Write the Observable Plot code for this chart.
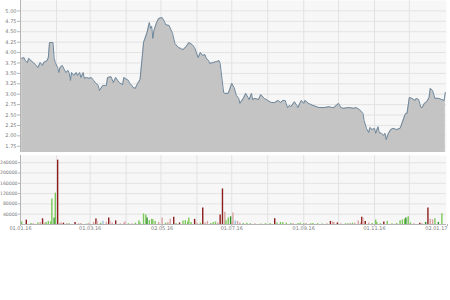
<!DOCTYPE html>
<html><head><meta charset="utf-8">
<script src="https://cdn.jsdelivr.net/npm/d3@7"></script>
<script src="https://cdn.jsdelivr.net/npm/@observablehq/plot@0.6"></script>
<style>
html,body{margin:0;padding:0;background:#fff;}
#chart svg{display:block;}
#bottomPanel{margin-top:3px;}
</style>
</head><body>
<div id="chart"><div id="topPanel"></div><div id="bottomPanel"></div></div>
<script>
// Day offsets from 2016-01-02 and closing prices
const priceDays = [0,2,3,5,6,8,10,12,14,16,18,19,22,23,24,27,28,29,31,32,33,35,38,40,41,42,43,45,47,48,50,51,53,54,56,58,60,62,64,66,67,70,72,73,74,77,79,81,84,87,88,92,93,95,96,98,99,100,102,104,105,108,110,111,112,113,114,116,118,121,123,124,127,130,132,135,137,139,142,144,147,149,152,154,156,158,159,161,162,165,167,168,170,171,174,175,178,181,183,185,187,188,191,193,195,196,198,199,201,204,206,209,212,215,218,221,223,225,227,229,231,232,235,237,238,240,241,243,244,247,251,256,261,265,267,269,273,275,277,282,286,288,291,294,295,297,299,300,302,304,305,307,308,310,312,313,314,316,318,320,323,326,327,330,331,332,334,336,339,340,342,344,345,347,349,351,352,354,356,359,362,364,365];
const prices = [3.86,3.88,3.81,3.76,3.86,3.81,3.76,3.71,3.64,3.76,3.69,3.76,3.81,3.88,4.24,4.24,3.86,3.76,3.64,3.52,3.64,3.69,3.52,3.57,3.50,3.33,3.52,3.45,3.52,3.45,3.52,3.40,3.52,3.38,3.40,3.38,3.40,3.33,3.26,3.21,3.09,3.21,3.21,3.21,3.40,3.42,3.28,3.40,3.28,3.23,3.40,3.33,3.26,3.21,3.16,3.14,3.21,3.26,3.35,3.93,4.24,4.48,4.72,4.58,4.63,4.34,4.53,4.70,4.82,4.84,4.75,4.67,4.65,4.46,4.22,4.12,4.10,4.07,4.15,4.24,4.19,4.12,3.88,4.00,3.93,3.95,3.86,3.81,3.74,3.76,3.78,3.78,3.81,3.74,3.04,3.02,3.02,3.26,3.16,2.97,2.90,2.78,2.90,3.02,2.92,2.87,3.02,2.87,2.90,2.87,2.99,2.90,2.85,2.80,2.80,2.85,2.80,2.85,2.85,2.68,2.73,2.70,2.82,2.73,2.68,2.80,2.85,2.78,2.85,2.78,2.73,2.68,2.68,2.70,2.68,2.68,2.78,2.68,2.66,2.68,2.66,2.68,2.63,2.54,2.37,2.18,2.08,2.20,2.15,2.18,2.06,2.22,2.08,2.06,2.01,2.06,1.91,2.06,2.15,2.18,2.15,2.18,2.25,2.49,2.54,2.54,2.92,2.90,2.85,2.90,2.87,2.68,2.68,2.78,2.82,2.92,3.14,3.09,2.90,2.90,2.87,2.85,3.04];

// Volume bars: day offsets from 2016-01-02, volumes, kind
const volDays = [0,4,8,10,14,16,18,20,21,23,25,26,28,29,31,33,34,36,39,41,46,49,51,56,58,62,64,65,68,70,73,75,76,78,81,85,88,89,92,95,98,101,102,105,107,108,110,112,113,115,118,121,124,126,128,131,133,136,139,141,143,144,146,149,151,154,156,158,160,163,165,167,169,171,173,175,176,178,180,181,182,184,186,188,191,194,197,201,206,210,214,218,220,223,225,228,232,234,238,240,243,245,249,251,255,259,263,266,268,269,272,275,279,281,283,285,287,290,292,293,294,296,299,302,305,306,309,312,315,319,323,326,328,330,331,333,335,338,343,345,348,350,352,354,356,359,362,364];
const volumes = [10000,17000,4000,3000,6000,8000,22000,5000,8000,12000,10000,99000,25000,122000,250000,5000,6000,5000,4000,3000,8000,3000,4000,2000,5000,8000,21000,12000,5000,13000,8000,25000,13000,6000,14000,3000,5000,10000,3000,3000,5000,15000,6000,41000,37000,25000,15000,20000,18000,12000,8000,25000,5000,8000,20000,28000,4000,6000,14000,15000,10000,25000,8000,20000,6000,5000,64000,6000,12000,4000,8000,10000,6000,37000,138000,48000,15000,25000,30000,8000,45000,14000,12000,6000,4000,5000,3000,3000,2000,3000,4000,22000,6000,8000,7000,5000,4000,3000,4000,5000,3000,4000,3000,4000,3000,2000,3000,12000,10000,8000,6000,3000,3000,3000,4000,5000,5000,14000,6000,28000,25000,12000,6000,4000,17000,8000,3000,10000,12000,3000,4000,15000,18000,20000,25000,30000,6000,3000,5000,3000,8000,64000,20000,18000,22000,8000,42000,40000];
const volKinds = ["up","down","up","downL","up","downL","down","downL","up","up","up","up","upD","up","down","downL","downL","down","downL","up","down","downL","downL","up","downL","downL","down","downL","up","flat","downL","down","downL","downL","down","downL","downL","downL","up","downL","up","up","up","up","up","upD","up","up","up","up","downL","downL","up","downL","downL","down","up","down","up","up","up","up","up","down","downL","up","down","downL","downL","up","up","up","downL","down","down","downL","up","up","upD","downL","downL","flat","downL","downL","up","up","up","downL","up","up","up","down","up","up","up","up","up","downL","up","up","up","downL","up","up","up","up","downL","down","downL","downL","down","downL","up","up","downL","up","downL","downL","downL","down","downL","down","downL","up","up","up","up","down","up","up","up","up","up","up","upD","up","up","downL","down","downL","upD","down","downL","downL","up","upD","up"];
const kindColors = {up:"#7dc85a", upD:"#2f8f2a", down:"#8c1d1d", downL:"#d9a3a3", flat:"#9cc4de"};

const priceTicks = [1.75,2.00,2.25,2.50,2.75,3.00,3.25,3.50,3.75,4.00,4.25,4.50,4.75,5.00];
const volTicks = [40000,80000,120000,160000,200000,240000];
const dateTickStrings = ["2016-01-01","2016-03-01","2016-05-02","2016-07-01","2016-09-01","2016-11-01","2017-01-02"];
const dateLabels = ["01.01.16","01.03.16","02.05.16","01.07.16","01.09.16","01.11.16","02.01.17"];

const xStart = new Date(Date.UTC(2016,0,1));
const xEnd = new Date(Date.UTC(2017,0,2));
const dayToDate = d => new Date(Date.UTC(2016,0,2+d));
const priceData = priceDays.map((d,i)=>({date:dayToDate(d), price:prices[i]}));
const volData = volDays.map((d,i)=>({date:dayToDate(d), volume:volumes[i], kind:volKinds[i]}));
const dateTicks = dateTickStrings.map(s=>new Date(s+"T00:00:00Z"));
const labelMap = new Map(dateTicks.map((d,i)=>[+d, dateLabels[i]]));
const monthGrid = d3.utcMonth.range(new Date(Date.UTC(2016,1,1)), new Date(Date.UTC(2017,0,1)));

const common = {
  width: 450, marginLeft: 20, marginRight: 4,
  style: {background:"transparent", fontFamily:"DejaVu Sans, sans-serif", fontSize:"5px", color:"#777"},
  x: {type:"utc", domain:[xStart, xEnd], axis:null}
};
const gridColor = "#e3e3e3";
const plotBg = "#f7f7f7";
const axisColor = "#b5b5b5";
const tickText = "#7a7a7a";

const pricePlot = Plot.plot({
  ...common,
  height: 152, marginTop: 0, marginBottom: 0,
  y: {domain:[1.6, 5.25], axis:null},
  marks: [
    Plot.frame({fill:plotBg, stroke:"none"}),
    Plot.gridY(priceTicks, {stroke:gridColor, strokeOpacity:1}),
    Plot.gridX(monthGrid, {stroke:gridColor, strokeOpacity:1}),
    Plot.areaY(priceData, {x:"date", y1:1.6, y2:"price", fill:"#c4c4c4"}),
    Plot.lineY(priceData, {x:"date", y:"price", stroke:"#6d879c", strokeWidth:1}),
    Plot.axisY(priceTicks, {tickFormat:".2f", tickSize:3, tickPadding:1, label:null, fontSize:5, stroke:axisColor, fill:tickText}),
    Plot.ruleX([xStart], {stroke:axisColor})
  ]
});

const volumePlot = Plot.plot({
  ...common,
  height: 82, marginTop: 0, marginBottom: 13,
  y: {domain:[0, 268000], axis:null},
  marks: [
    Plot.frame({fill:plotBg, stroke:"none"}),
    Plot.gridY(volTicks, {stroke:gridColor, strokeOpacity:1}),
    Plot.gridX(monthGrid, {stroke:gridColor, strokeOpacity:1}),
    Plot.ruleX(volData, {x:"date", y1:0, y2:"volume", stroke:d=>kindColors[d.kind], strokeWidth:1.4}),
    Plot.axisY(volTicks, {tickFormat:d=>String(d), tickSize:2, tickPadding:1, label:null, fontSize:4.6, stroke:axisColor, fill:tickText}),
    Plot.axisX(dateTicks.slice(0,6), {tickFormat:d=>labelMap.get(+d), tickSize:2, tickPadding:0, label:null, fontSize:5, stroke:axisColor, fill:tickText}),
    Plot.axisX(dateTicks.slice(6), {tickFormat:d=>labelMap.get(+d), tickSize:2, tickPadding:0, label:null, fontSize:5, textAnchor:"end", dx:1, stroke:axisColor, fill:tickText}),
    Plot.ruleY([0], {stroke:axisColor}),
    Plot.ruleX([xStart], {stroke:axisColor})
  ]
});

document.getElementById("topPanel").appendChild(pricePlot);
document.getElementById("bottomPanel").appendChild(volumePlot);
</script>
</body></html>
